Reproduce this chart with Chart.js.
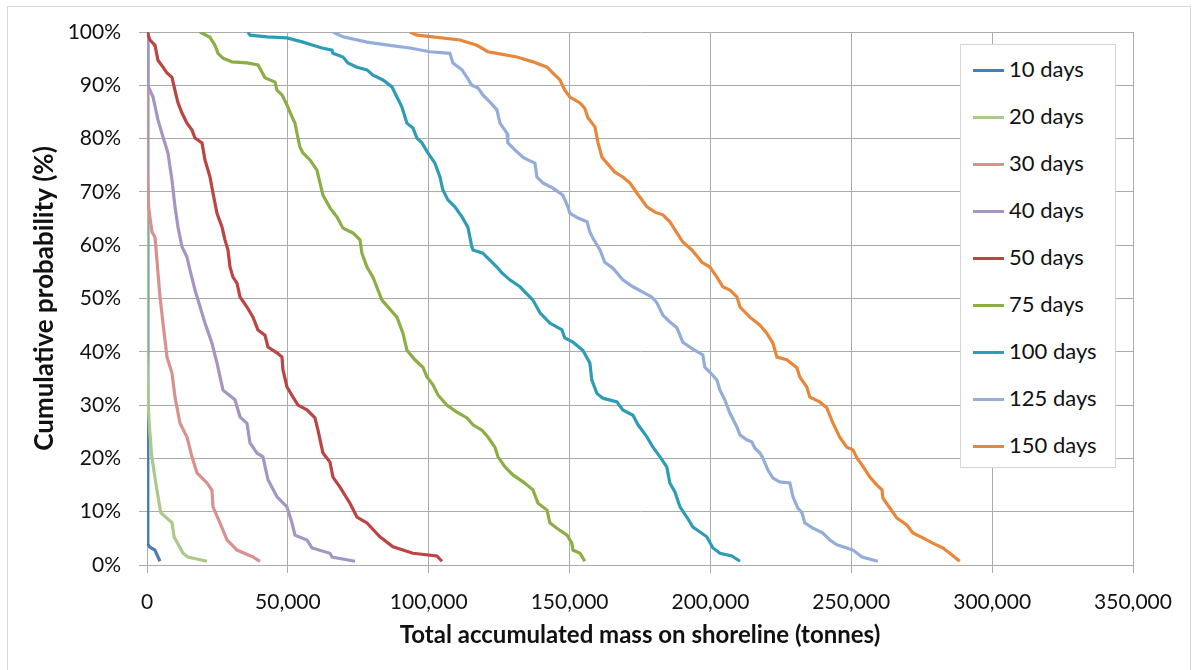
<!DOCTYPE html>
<html>
<head>
<meta charset="utf-8">
<script src="https://cdn.jsdelivr.net/npm/chart.js@4"></script>
<style>
  body { margin: 0; background: #fff; }
  #wrap { position: relative; width: 1192px; height: 670px; overflow: hidden; }
  #frame { position: absolute; left: 7px; top: 6px; width: 1182px; height: 700px; border: 1px solid #d9d9d9; }
  #chart { position: absolute; left: 0; top: 0; }
  #legend { position: absolute; left: 960px; top: 44px; width: 154px; height: 422px; border: 1px solid #d4d4d4; background: #fff;
            font-family: Lato, "Open Sans", sans-serif; font-size: 22px; color: #111; }
  .item { position: absolute; left: 12px; height: 26px; line-height: 26px; white-space: nowrap; }
  .swatch { display: inline-block; width: 31px; height: 3px; vertical-align: middle; margin-right: 5px; position: relative; top: -1px; }
</style>
</head>
<body>
<div id="wrap">
  <div id="frame"></div>
  <canvas id="chart" width="1192" height="670"></canvas>
  <div id="legend"></div>
</div>
<script>
// Series names and colours
const seriesNames = ['10 days', '20 days', '30 days', '40 days', '50 days', '75 days', '100 days', '125 days', '150 days'];
const seriesColors = ['#4a7ebb', '#abc98b', '#d9918f', '#a595c2', '#ba4542', '#8bae45', '#2f9cb5', '#93acd8', '#e8873a'];

// Total accumulated mass (tonnes) and cumulative probability (%)
const mass10 = [0, 300, 900, 2800, 4600];
const prob10 = [100, 4.0, 3.4, 2.8, 0.7];

const mass20 = [0, 0, 400, 1000, 1700, 3500, 4900, 8900, 9600, 12800, 14500, 21300];
const prob20 = [100, 40, 30, 25, 20.3, 14.1, 9.8, 7.9, 5.3, 2.2, 1.5, 0.7];

const mass30 = [0, 0, 600, 1770, 2840, 4610, 5680, 7100, 8870, 9940, 11710, 14190, 15970, 17740, 21290, 23070, 23420, 25900, 28390, 31940, 37620, 40100];
const prob30 = [100, 75, 67, 62.5, 61.5, 50.3, 45.4, 39, 36, 31.5, 26.6, 24, 20.3, 17.3, 15.4, 14, 10.9, 7.9, 4.7, 2.8, 1.5, 0.7];

const mass40 = [0, 300, 2130, 3900, 5680, 7450, 8870, 9940, 11000, 12420, 14190, 15260, 17040, 20580, 23070, 24840, 26970, 31230, 33010, 35490, 36560, 39040, 41170, 42940, 46140, 49680, 51460, 52530, 56780, 58560, 64950, 65660, 73820];
const prob40 = [100, 90, 87.8, 83.5, 80.3, 77.3, 72.2, 67.2, 63.4, 59.7, 57.8, 55.3, 51.6, 45.4, 41.6, 37.9, 32.8, 31, 27.8, 26.6, 22.9, 21, 20.3, 16, 12.8, 10.9, 7.9, 5.6, 4.7, 3.2, 2.2, 1.5, 0.7];

const mass50 = [0, 1060, 2840, 3900, 5680, 7100, 8870, 9940, 11000, 12420, 14190, 15970, 17040, 19520, 20580, 22360, 23420, 24840, 26620, 27680, 28750, 29460, 30520, 31940, 33010, 35490, 37620, 39390, 41880, 42940, 46140, 47910, 48270, 49690, 51820, 53590, 56780, 59620, 60690, 62460, 64950, 66010, 68500, 72040, 74530, 78080, 82690, 87310, 94400, 102900, 104700];
const prob50 = [100, 98.5, 97.5, 94.7, 93.4, 92.3, 91.5, 89, 86.7, 84.8, 82.9, 81.6, 80.1, 79.2, 76, 72.8, 69.8, 66, 63.4, 61, 59.1, 55.9, 54, 52.9, 50.3, 48.4, 46.5, 44.1, 43.1, 40.9, 39.8, 39, 36.6, 33.4, 31.5, 30, 29.1, 27.6, 25.3, 21, 19.3, 16.5, 14.6, 11.6, 9, 7.9, 5.3, 3.4, 2.2, 1.7, 0.7];

const mass75 = [18810, 22360, 24130, 25200, 26970, 30170, 35490, 39390, 40810, 41880, 45430, 46140, 47910, 49690, 51460, 52530, 53240, 54300, 55370, 57850, 60330, 61400, 62460, 64950, 67430, 69560, 73110, 75590, 76300, 78080, 80210, 81980, 83400, 88720, 90850, 92270, 95110, 97950, 99370, 101500, 103300, 106400, 110000, 113600, 115700, 118900, 121000, 123500, 124600, 127100, 129900, 133500, 137000, 138800, 142000, 143000, 145500, 149100, 150800, 151200, 153700, 155400];
const prob75 = [100, 99, 97.5, 96, 95.1, 94.4, 94.2, 93.8, 92.5, 91.4, 90.6, 89.1, 88.2, 86.3, 84.1, 82.9, 81, 78.4, 77.3, 76, 74.1, 71.7, 69.4, 67, 65.3, 63.2, 62.3, 61, 58.5, 55.9, 54, 51.6, 49.7, 46.5, 43.5, 40.3, 38.5, 37.1, 35.3, 33.8, 31.9, 30, 28.7, 27.6, 26.3, 25.3, 24, 22.1, 20.3, 18.4, 16.9, 15.6, 14.1, 11.6, 10.3, 7.9, 6.9, 5.6, 4.1, 2.8, 2.2, 0.7];

const mass100 = [35850, 36560, 42590, 49690, 55370, 58910, 62110, 65660, 66010, 69560, 71330, 74530, 78080, 80210, 83760, 86950, 88720, 90500, 91560, 92270, 94400, 95820, 97600, 99730, 102200, 104000, 105000, 106800, 109300, 111800, 113900, 115300, 115700, 119200, 121700, 124200, 126000, 128800, 132400, 137000, 139500, 143000, 147300, 148300, 151200, 154700, 157200, 157900, 159700, 161800, 166800, 168900, 172500, 174300, 177500, 179600, 182100, 184500, 185600, 187400, 189200, 191600, 193800, 196300, 198700, 200900, 203400, 207600, 210500];
const prob100 = [100, 99.4, 99.1, 98.9, 98.1, 97.5, 97, 96.6, 96, 95.3, 94.2, 93.4, 92.9, 91.9, 91, 89.7, 87.8, 85.9, 84.1, 82.9, 82, 80.1, 79.2, 77.3, 75.4, 72.8, 70.4, 68.5, 67.2, 65.3, 63.4, 59.7, 59.1, 58.5, 57.2, 55.9, 54.8, 53.5, 52.2, 49.7, 47.3, 45.4, 44.1, 42.6, 41.8, 40.3, 37.9, 34.7, 32.2, 31.3, 30.6, 29.1, 28.1, 26.3, 24, 22.1, 20.3, 18.4, 15.4, 13.7, 10.9, 9, 7.1, 6.2, 5.3, 3.2, 2.2, 1.7, 0.7];

const mass125 = [66010, 69560, 78080, 86240, 93340, 100400, 107500, 108600, 111800, 113600, 115300, 117500, 119200, 121700, 124200, 125300, 127800, 128100, 130600, 133400, 135200, 137700, 138400, 140500, 144100, 147600, 149400, 150100, 153000, 156200, 157200, 158300, 160800, 162500, 165400, 168900, 172500, 176000, 179200, 181000, 183100, 185600, 188100, 190200, 193800, 197300, 198000, 199800, 202300, 203400, 205100, 206900, 209400, 210500, 212900, 214700, 215800, 217600, 218600, 220400, 222200, 224600, 228200, 229300, 231000, 232500, 233500, 236400, 239900, 242400, 244900, 248400, 250600, 253800, 259400];
const prob125 = [100, 99.1, 98.1, 97.5, 97, 96.3, 96, 94.2, 92.9, 91.5, 90, 89.5, 88.2, 86.9, 85.4, 82.9, 81, 79.2, 77.9, 76.5, 76, 75.4, 72.8, 71.7, 70.7, 69.4, 67.2, 66, 65.1, 64.4, 62.5, 61.3, 59.1, 56.8, 55.7, 53.5, 52.2, 51.2, 50.3, 49.2, 46.9, 45.6, 44.5, 41.8, 40.5, 39.4, 37.1, 36.2, 34.7, 32.8, 31, 28.5, 25.9, 24.4, 23.5, 23.1, 21.9, 21, 20.1, 17.8, 16.3, 15.6, 15.4, 12.8, 10.7, 9.8, 7.9, 6.9, 6, 4.7, 3.8, 3.2, 2.8, 1.5, 0.7];

const mass150 = [93340, 95820, 101500, 111100, 117100, 121000, 124200, 131300, 137000, 142000, 144100, 146600, 148300, 150100, 153700, 155400, 156500, 159000, 160100, 161500, 163300, 166100, 168900, 171400, 173900, 177500, 180300, 183100, 185600, 188100, 190200, 193400, 195500, 197000, 199800, 202300, 204400, 206900, 209400, 210500, 214000, 217600, 220000, 222200, 223600, 227100, 230700, 231700, 234200, 235300, 238800, 241300, 243500, 245900, 248400, 250600, 252000, 253800, 256600, 259100, 260900, 261200, 263700, 266200, 269700, 271900, 275400, 278900, 282500, 285000, 288500];
const prob150 = [100, 99.4, 99.1, 98.5, 97.5, 96.3, 96, 95.3, 94.4, 93.4, 92.3, 91, 89.1, 87.8, 86.7, 85.7, 83.9, 82.2, 79.2, 76.5, 75.4, 73.7, 72.8, 71.7, 69.8, 67.2, 66.2, 65.7, 64.4, 62.3, 60.6, 59.1, 57.8, 56.8, 55.9, 54, 52.2, 51.6, 50.3, 48.4, 46.5, 45, 43.5, 41.6, 39, 38.5, 37, 35.3, 33.4, 31.5, 30.6, 29.5, 26.6, 24, 22.1, 21.6, 20.1, 18.8, 16.5, 15, 14.1, 12.6, 10.7, 8.8, 7.5, 6, 5.1, 4.1, 3.2, 2.2, 0.7];

const allMass = [mass10, mass20, mass30, mass40, mass50, mass75, mass100, mass125, mass150];
const allProb = [prob10, prob20, prob30, prob40, prob50, prob75, prob100, prob125, prob150];

const gridColor = '#ababab';
const tickFont = { family: 'Lato', size: 21 };

// later series are drawn on top, as in the original
const datasets = seriesNames.map((name, i) => ({
    label: name,
    data: allMass[i].map((m, j) => ({ x: m, y: allProb[i][j] })),
    showLine: true,
    borderColor: seriesColors[i],
    backgroundColor: seriesColors[i],
    borderWidth: 3.2,
    pointRadius: 0,
    tension: 0,
    order: seriesNames.length - i
}));

const ctx = document.getElementById('chart').getContext('2d');
const chart = new Chart(ctx, {
    type: 'scatter',
    data: { datasets: datasets },
    options: {
        responsive: false,
        animation: false,
        layout: { padding: { top: 32, right: 59, left: 0, bottom: 0 } },
        plugins: {
            legend: { display: false },
            tooltip: { enabled: false }
        },
        scales: {
            x: {
                type: 'linear',
                min: 0,
                max: 350000,
                ticks: {
                    stepSize: 50000,
                    color: '#111',
                    font: tickFont,
                    padding: 17,
                    maxRotation: 0,
                    callback: v => v.toLocaleString('en-US')
                },
                grid: { color: gridColor, lineWidth: 1, tickLength: 8 },
                border: { color: gridColor },
                title: {
                    display: true,
                    text: 'Total accumulated mass on shoreline (tonnes)',
                    color: '#111',
                    font: { family: 'Lato', size: 24, weight: 'bold' },
                    padding: { top: 0, bottom: 20 }
                },
                afterFit: s => { s.height = 105; }
            },
            y: {
                min: 0,
                max: 100,
                ticks: {
                    stepSize: 10,
                    color: '#111',
                    font: tickFont,
                    padding: 18,
                    callback: v => v + '%'
                },
                grid: { color: gridColor, lineWidth: 1, tickLength: 8 },
                border: { color: gridColor },
                title: {
                    display: true,
                    text: 'Cumulative probability (%)',
                    color: '#111',
                    font: { family: 'Lato', size: 26, weight: 'bold' },
                    padding: { top: 29, bottom: 0 }
                },
                afterFit: s => { s.width = 147; }
            }
        }
    }
});

// Legend box inside the plot, built from the same names and colours
const legend = document.getElementById('legend');
seriesNames.forEach((name, i) => {
    const row = document.createElement('div');
    row.className = 'item';
    row.style.top = (11 + i * 47) + 'px';
    row.innerHTML = '<span class="swatch" style="background:' + seriesColors[i] + '"></span>' + name;
    legend.appendChild(row);
});
</script>
</body>
</html>
